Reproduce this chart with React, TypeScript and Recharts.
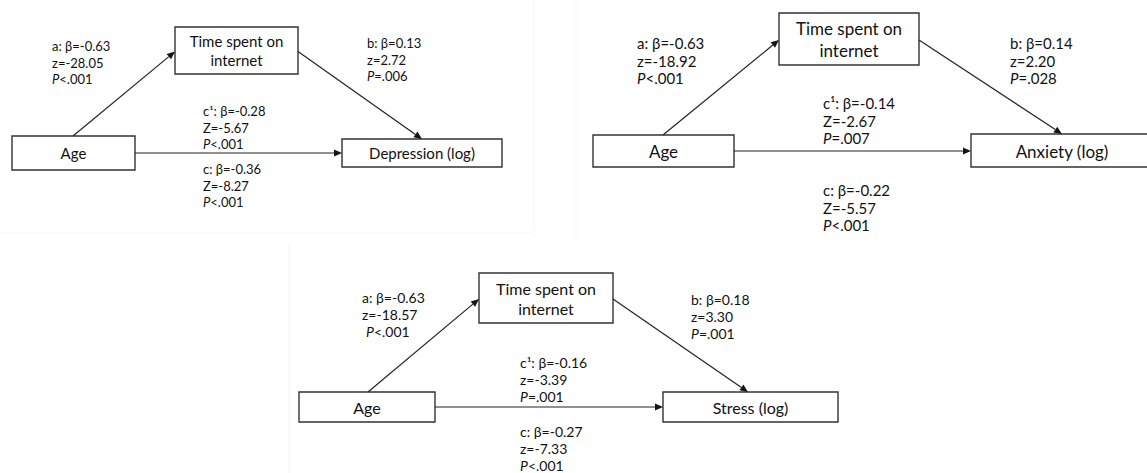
import React from 'react'
import { ScatterChart, Scatter, XAxis, YAxis, ReferenceArea, ReferenceLine } from 'recharts'

const W = 1147
const H = 473

// model variables
const predictor = 'Age'
const mediatorLines = ['Time spent on', 'internet']
const outcomes = ['Depression (log)', 'Anxiety (log)', 'Stress (log)']

// path a: age -> time spent on internet
const aBeta = [-0.63, -0.63, -0.63]
const aZ = [-28.05, -18.92, -18.57]
const aP = ['<.001', '<.001', '<.001']

// path b: time spent on internet -> outcome
const bBeta = [0.13, 0.14, 0.18]
const bZ = [2.72, 2.2, 3.3]
const bP = ['=.006', '=.028', '=.001']

// c1: direct effect
const c1Beta = [-0.28, -0.14, -0.16]
const c1Z = [-5.67, -2.67, -3.39]
const c1P = ['<.001', '=.007', '=.001']

// c: total effect
const cBeta = [-0.36, -0.22, -0.27]
const cZ = [-8.27, -5.57, -7.33]
const cP = ['<.001', '<.001', '<.001']

// the first two figures write the c-path statistic as capital Z
const cZLetter = ['Z', 'Z', 'z']

const FONT = 'Lato, "Open Sans", sans-serif'
const INK = '#111'

// layout of each figure, in pixels of the 1147x473 canvas
// boxes are [x1, y1, x2, y2]
const LAYOUT = [
  {
    pred: [12, 136, 135, 170], med: [175, 27, 298, 74], out: [342, 139, 502, 167],
    aFrom: [73, 136], bTo: [422, 139],
    aLab: [52, 46], bLab: [367, 43], c1Lab: [203, 111], cLab: [203, 169],
    fs: 13, boxFs: 15, lh: 16.5, boxLh: 19, pIndent: 0,
  },
  {
    pred: [593, 135, 734, 167], med: [779, 13, 919, 65], out: [971, 134, 1160, 167],
    aFrom: [663, 135], bTo: [1062, 134],
    aLab: [637, 43], bLab: [1010, 43], c1Lab: [823, 103], cLab: [823, 190],
    fs: 15, boxFs: 17, lh: 17.5, boxLh: 22, pIndent: 0,
  },
  {
    pred: [299, 392, 435, 422], med: [479, 273, 613, 323], out: [663, 392, 838, 422],
    aFrom: [368, 392], bTo: [748, 392],
    aLab: [362, 297], bLab: [691, 299], c1Lab: [520, 362], cLab: [520, 431],
    fs: 14, boxFs: 16, lh: 17, boxLh: 20, pIndent: 4,
  },
]

type Seg = { t: string; italic?: boolean }
type LabelItem = { x: number; y: number; lines: Seg[][]; fs: number; lh: number; middle?: boolean; indent?: number }

const fmt = (v: number) => v.toFixed(2)

const statLines = (head: string, beta: number, zl: string, z: number, p: string): Seg[][] => [
  [{ t: `${head}: β=${fmt(beta)}` }],
  [{ t: `${zl}=${fmt(z)}` }],
  [{ t: 'P', italic: true }, { t: p }],
]

const labels: LabelItem[] = []
LAYOUT.forEach((L, i) => {
  const boxText = (r: number[], lines: string[]) =>
    labels.push({
      x: (r[0] + r[2]) / 2,
      y: (r[1] + r[3]) / 2,
      lines: lines.map((t) => [{ t }]),
      fs: L.boxFs,
      lh: L.boxLh,
      middle: true,
    })
  boxText(L.pred, [predictor])
  boxText(L.med, mediatorLines)
  // the anxiety box runs off the right edge; its text sits where the box was centred
  boxText(i === 1 ? [L.out[0], L.out[1], 1153, L.out[3]] : L.out, [outcomes[i]])
  labels.push({ x: L.aLab[0], y: L.aLab[1], lines: statLines('a', aBeta[i], 'z', aZ[i], aP[i]), fs: L.fs, lh: L.lh, indent: L.pIndent })
  labels.push({ x: L.bLab[0], y: L.bLab[1], lines: statLines('b', bBeta[i], 'z', bZ[i], bP[i]), fs: L.fs, lh: L.lh })
  labels.push({ x: L.c1Lab[0], y: L.c1Lab[1], lines: statLines('c¹', c1Beta[i], cZLetter[i], c1Z[i], c1P[i]), fs: L.fs, lh: L.lh })
  labels.push({ x: L.cLab[0], y: L.cLab[1], lines: statLines('c', cBeta[i], cZLetter[i], cZ[i], cP[i]), fs: L.fs, lh: L.lh })
})

const LabelShape = (props: any) => {
  const { cx, cy, payload } = props
  const item = payload as LabelItem
  const n = item.lines.length
  const y0 = item.middle ? cy - ((n - 1) * item.lh) / 2 : cy
  return (
    <text
      fontSize={item.fs}
      fontFamily={FONT}
      fill={INK}
      textAnchor={item.middle ? 'middle' : 'start'}
      dominantBaseline="central"
    >
      {item.lines.map((line, i) => (
        <tspan key={i} x={cx + (i === 2 && item.indent ? item.indent : 0)} y={y0 + i * item.lh}>
          {line.map((s, j) => (
            <tspan key={j} fontStyle={s.italic ? 'italic' : 'normal'}>
              {s.t}
            </tspan>
          ))}
        </tspan>
      ))}
    </text>
  )
}

const Arrow = (props: any) => {
  const { x1, y1, x2, y2 } = props
  const dx = x2 - x1
  const dy = y2 - y1
  const len = Math.hypot(dx, dy) || 1
  const ux = dx / len
  const uy = dy / len
  const hl = 8
  const hw = 3.5
  const bx = x2 - ux * hl
  const by = y2 - uy * hl
  return (
    <g>
      <line x1={x1} y1={y1} x2={bx} y2={by} stroke="#222" strokeWidth={1.2} />
      <polygon
        points={`${x2},${y2} ${bx - uy * hw},${by + ux * hw} ${bx + uy * hw},${by - ux * hw}`}
        fill="#151515"
      />
    </g>
  )
}

// faint edges of the three pasted figures
const edges = [
  [[534, 0], [534, 232]],
  [[0, 232], [534, 232]],
  [[576, 0], [576, 240]],
  [[289, 243], [289, 473]],
]

export default function App() {
  return (
    <div style={{ width: W, height: H, background: '#fff' }}>
      <style>{'body{margin:0;background:#fff}'}</style>
      <ScatterChart width={W} height={H} margin={{ top: 0, right: 0, bottom: 0, left: 0 }}>
        <XAxis type="number" dataKey="x" domain={[0, W]} hide />
        <YAxis type="number" dataKey="y" domain={[0, H]} reversed hide />
        {edges.map((e, i) => (
          <ReferenceLine
            key={`e${i}`}
            segment={[{ x: e[0][0], y: e[0][1] }, { x: e[1][0], y: e[1][1] }]}
            stroke="#f6f6f6"
            strokeWidth={1}
            ifOverflow="visible"
          />
        ))}
        {LAYOUT.map((L, i) => {
          const cY = (L.pred[1] + L.pred[3]) / 2
          const medMidY = (L.med[1] + L.med[3]) / 2 + 1
          return [
            <ReferenceLine
              key={`a${i}`}
              segment={[{ x: L.aFrom[0], y: L.aFrom[1] }, { x: L.med[0], y: medMidY }]}
              shape={Arrow}
              ifOverflow="visible"
            />,
            <ReferenceLine
              key={`b${i}`}
              segment={[{ x: L.med[2], y: medMidY }, { x: L.bTo[0], y: L.bTo[1] }]}
              shape={Arrow}
              ifOverflow="visible"
            />,
            <ReferenceLine
              key={`c${i}`}
              segment={[{ x: L.pred[2], y: cY }, { x: L.out[0], y: cY }]}
              shape={Arrow}
              ifOverflow="visible"
            />,
          ]
        })}
        {LAYOUT.flatMap((L, i) =>
          [L.pred, L.med, L.out].map((r, j) => (
            <ReferenceArea
              key={`r${i}-${j}`}
              x1={r[0]}
              x2={r[2]}
              y1={r[1]}
              y2={r[3]}
              fill="#fff"
              fillOpacity={1}
              stroke="#333"
              strokeWidth={1.4}
              ifOverflow="visible"
            />
          ))
        )}
        <Scatter data={labels} shape={LabelShape} isAnimationActive={false} />
      </ScatterChart>
    </div>
  )
}
